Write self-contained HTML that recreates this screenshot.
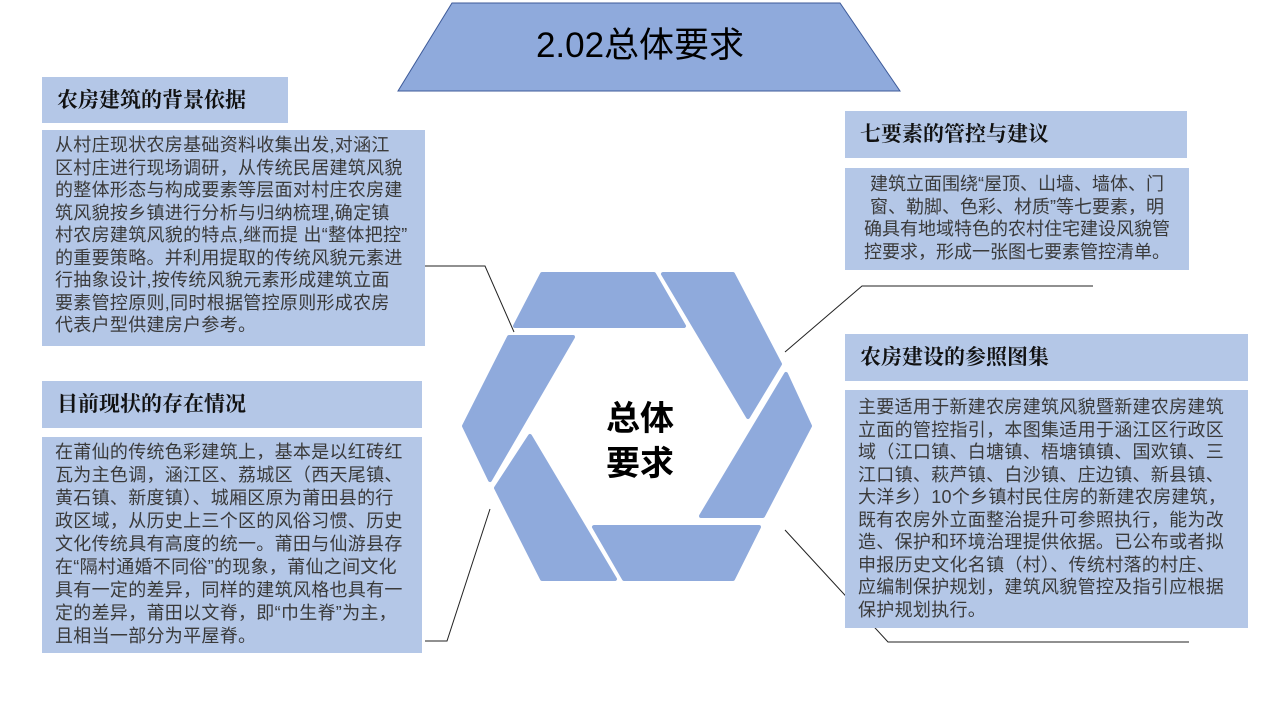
<!DOCTYPE html>
<html><head><meta charset="utf-8"><style>
body{margin:0;width:1280px;height:720px;background:#fff;position:relative;overflow:hidden;font-family:"Liberation Sans","Noto Sans CJK SC",sans-serif}
.b{position:absolute;background:#b4c7e7}
.h{font-family:"Liberation Serif","Noto Serif CJK SC",serif;font-weight:bold;font-size:21px;color:#111;box-sizing:border-box;padding-left:15px;line-height:47px}
.t{font-size:18px;color:#3a3a3a;box-sizing:border-box;padding:4px 0 0 13px;white-space:nowrap;letter-spacing:0.3px}
</style></head><body>
<svg width="1280" height="720" style="position:absolute;left:0;top:0">
<polygon points="452,3 840,3 900,91 398,91" fill="#8faadc" stroke="#3d5a99" stroke-width="1"/>
<g fill="#8faadc" stroke="#8faadc" stroke-width="4" stroke-linejoin="round">
<polygon points="542,274 654,274 684,326 515,326"/>
<polygon points="663,274 733,274 780,364 748,417"/>
<polygon points="786,374 810,426 763,516 701,516"/>
<polygon points="759,527 733,579 624,579 594,527"/>
<polygon points="615,579 542,579 496,488 530,436"/>
<polygon points="490,480 464,426 509,337 573,337"/>
</g>
<g fill="none" stroke="#222" stroke-width="1">
<polyline points="404,266 485,266 514,332"/>
<polyline points="425,641 447,641 490,509"/>
<polyline points="785,352 862,286 1093,286"/>
<polyline points="785,530 888,642 1189,642"/>
</g>
<text x="640" y="57" text-anchor="middle" font-size="35" font-family="Liberation Sans, Noto Sans CJK SC, sans-serif" fill="#000">2.02总体要求</text>
<text x="640" y="430" text-anchor="middle" font-size="34" font-weight="bold" font-family="Liberation Sans, Noto Sans CJK SC, sans-serif" fill="#000">总体</text>
<text x="640" y="475" text-anchor="middle" font-size="34" font-weight="bold" font-family="Liberation Sans, Noto Sans CJK SC, sans-serif" fill="#000">要求</text>
</svg>

<div class="b h" style="left:42px;top:77px;width:246px;height:46px">农房建筑的背景依据</div>
<div class="b t" style="left:42px;top:130px;width:383px;height:216px;line-height:22.5px;padding-top:4px">从村庄现状农房基础资料收集出发,对涵江<br>区村庄进行现场调研，从传统民居建筑风貌<br>的整体形态与构成要素等层面对村庄农房建<br>筑风貌按乡镇进行分析与归纳梳理,确定镇<br>村农房建筑风貌的特点,继而提 出“整体把控”<br>的重要策略。并利用提取的传统风貌元素进<br>行抽象设计,按传统风貌元素形成建筑立面<br>要素管控原则,同时根据管控原则形成农房<br>代表户型供建房户参考。</div>

<div class="b h" style="left:42px;top:381px;width:380px;height:47px">目前现状的存在情况</div>
<div class="b t" style="left:42px;top:437px;width:380px;height:216px;line-height:23px">在莆仙的传统色彩建筑上，基本是以红砖红<br>瓦为主色调，涵江区、荔城区（西天尾镇、<br>黄石镇、新度镇）、城厢区原为莆田县的行<br>政区域，从历史上三个区的风俗习惯、历史<br>文化传统具有高度的统一。莆田与仙游县存<br>在“隔村通婚不同俗”的现象，莆仙之间文化<br>具有一定的差异，同样的建筑风格也具有一<br>定的差异，莆田以文脊，即“巾生脊”为主，<br>且相当一部分为平屋脊。</div>

<div class="b h" style="left:845px;top:111px;width:342px;height:47px">七要素的管控与建议</div>
<div class="b t" style="left:845px;top:168px;width:344px;height:102px;line-height:22.7px;text-align:center;padding:5px 0 0 0;letter-spacing:0">建筑立面围绕“屋顶、山墙、墙体、门<br>窗、勒脚、色彩、材质”等七要素，明<br>确具有地域特色的农村住宅建设风貌管<br>控要求，形成一张图七要素管控清单。</div>

<div class="b h" style="left:845px;top:334px;width:403px;height:47px">农房建设的参照图集</div>
<div class="b t" style="left:845px;top:390px;width:403px;height:238px;line-height:22.5px;padding-top:6px">主要适用于新建农房建筑风貌暨新建农房建筑<br>立面的管控指引，本图集适用于涵江区行政区<br>域（江口镇、白塘镇、梧塘镇镇、国欢镇、三<br>江口镇、萩芦镇、白沙镇、庄边镇、新县镇、<br>大洋乡）10个乡镇村民住房的新建农房建筑，<br>既有农房外立面整治提升可参照执行，能为改<br>造、保护和环境治理提供依据。已公布或者拟<br>申报历史文化名镇（村）、传统村落的村庄、<br>应编制保护规划，建筑风貌管控及指引应根据<br>保护规划执行。</div>
</body></html>
